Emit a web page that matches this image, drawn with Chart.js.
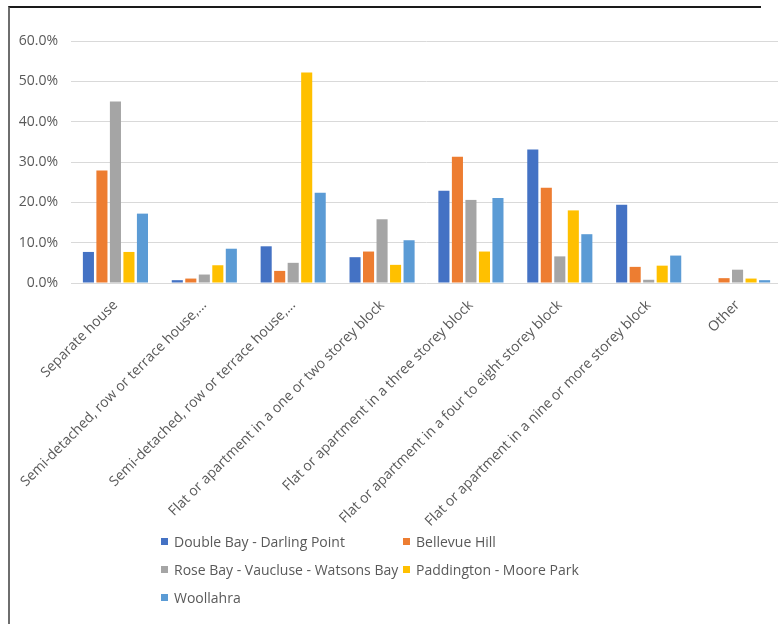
<!DOCTYPE html>
<html>
<head>
  <meta charset="UTF-8">
  <title>Dwelling structure</title>
  <script src="https://cdn.jsdelivr.net/npm/chart.js"></script>
  <style>
    html, body {
      margin: 0;
      padding: 0;
      background: #fff;
      overflow: hidden;
    }
    body {
      position: relative;
      width: 778px;
      height: 624px;
      font-family: "Open Sans", sans-serif;
    }
    #frame {
      position: absolute;
      left: 8px;
      top: 6px;
      width: 751px;
      height: 640px;
      border-top: 2px solid #1a1a1a;
      border-left: 2px solid #6e6e6e;
    }
    #chart {
      position: absolute;
      left: 0;
      top: 0;
    }
    #legend {
      position: absolute;
      left: 161px;
      top: 527px;
      display: grid;
      grid-template-columns: 242px auto;
      grid-auto-rows: 28px;
      font-size: 14px;
      color: #595959;
    }
    #legend span {
      display: flex;
      align-items: center;
      white-space: nowrap;
    }
    #legend i {
      display: inline-block;
      width: 7px;
      height: 7px;
      margin-right: 6px;
    }
  </style>
</head>
<body>
  <div id="frame"></div>
  <canvas id="chart" width="790" height="530"></canvas>
  <div id="legend"></div>

  <script>
    const categories = [
      'Separate house',
      'Semi-detached, row or terrace house,...',
      'Semi-detached, row or terrace house,...',
      'Flat or apartment in a one or two storey block',
      'Flat or apartment in a three storey block',
      'Flat or apartment in a four to eight storey block',
      'Flat or apartment in a nine or more storey block',
      'Other'
    ];

    const areas = [
      'Double Bay - Darling Point',
      'Bellevue Hill',
      'Rose Bay - Vaucluse - Watsons Bay',
      'Paddington - Moore Park',
      'Woollahra'
    ];

    // percentages per dwelling type
    const doubleBay   = [7.7, 0.7, 9.1, 6.4, 22.9, 33.1, 19.4, 0.0];
    const bellevue    = [27.9, 1.1, 3.0, 7.8, 31.3, 23.6, 4.0, 1.2];
    const roseBay     = [45.0, 2.1, 5.0, 15.8, 20.6, 6.6, 0.8, 3.3];
    const paddington  = [7.7, 4.4, 52.2, 4.5, 7.8, 18.0, 4.3, 1.1];
    const woollahra   = [17.2, 8.5, 22.4, 10.6, 21.1, 12.1, 6.8, 0.7];

    const yTicks = [0, 10, 20, 30, 40, 50, 60];

    const colours = ['#4472c4', '#ed7d31', '#a5a5a5', '#ffc000', '#5b9bd5'];
    const series = [doubleBay, bellevue, roseBay, paddington, woollahra];

    const font = { family: '"Open Sans", sans-serif', size: 14 };

    const ctx = document.getElementById('chart').getContext('2d');
    const chart = new Chart(ctx, {
      type: 'bar',
      data: {
        labels: categories,
        datasets: series.map((vals, i) => ({
          label: areas[i],
          data: vals,
          backgroundColor: colours[i],
          borderWidth: 0,
          categoryPercentage: 0.76,
          barPercentage: 0.82
        }))
      },
      options: {
        responsive: false,
        animation: false,
        layout: { padding: { top: 41, left: 8, right: 8, bottom: 0 } },
        plugins: {
          legend: { display: false },
          tooltip: { enabled: false }
        },
        scales: {
          x: {
            grid: { display: false },
            border: { display: false },
            ticks: {
              autoSkip: false,
              minRotation: 45,
              maxRotation: 45,
              padding: 6,
              color: '#595959',
              font: font
            },
            afterFit: s => { s.height = 247; }
          },
          y: {
            min: yTicks[0],
            max: yTicks[yTicks.length - 1],
            grid: { color: '#d9d9d9', drawTicks: false },
            border: { display: false },
            afterBuildTicks: s => { s.ticks = yTicks.map(v => ({ value: v })); },
            ticks: {
              padding: 13,
              color: '#595959',
              font: font,
              callback: v => v.toFixed(1) + '%'
            },
            afterFit: s => { s.width = 63; }
          }
        }
      }
    });

    // legend in two columns under the plot
    const legend = document.getElementById('legend');
    chart.data.datasets.forEach(ds => {
      const item = document.createElement('span');
      const box = document.createElement('i');
      box.style.background = ds.backgroundColor;
      item.appendChild(box);
      item.appendChild(document.createTextNode(ds.label));
      legend.appendChild(item);
    });
  </script>
</body>
</html>
